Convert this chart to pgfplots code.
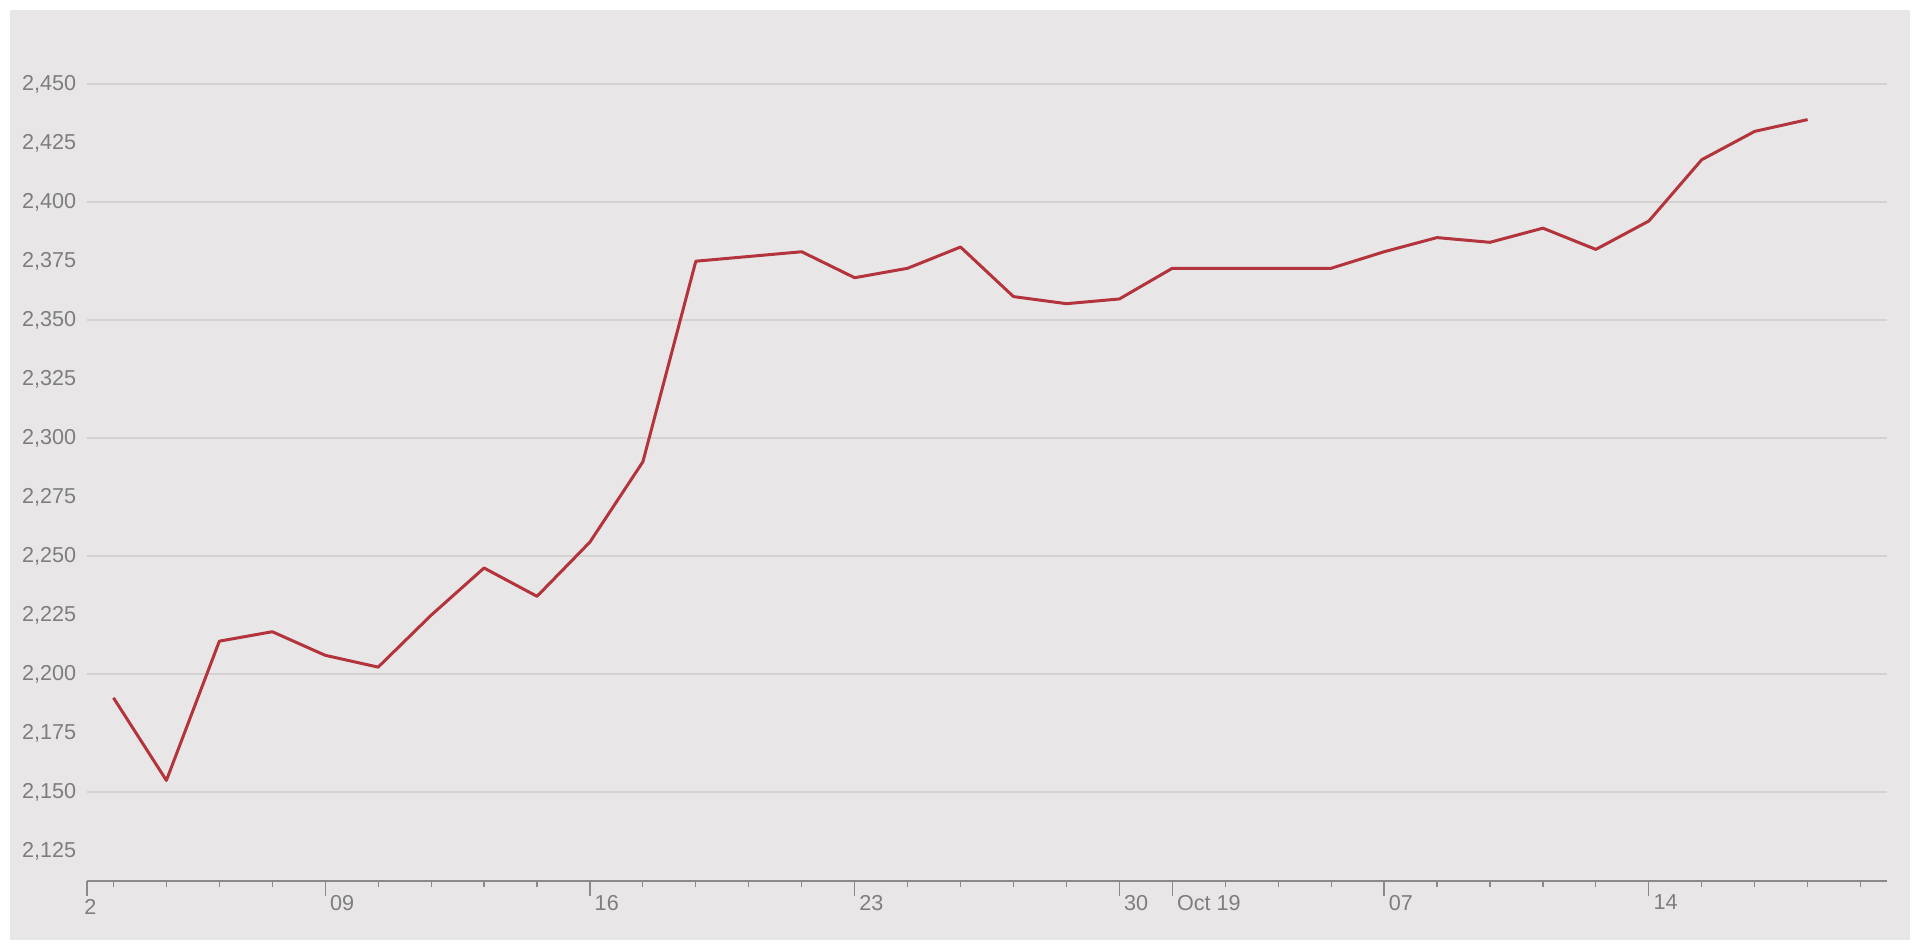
\documentclass[border=0pt]{standalone}
\usepackage{fontspec}
\setmainfont{Liberation Sans}
\usepackage{pgfplots}
\pgfplotsset{compat=1.18}
\definecolor{panel}{HTML}{E8E6E7}
\definecolor{gridc}{HTML}{D4D2D3}
\definecolor{linered}{HTML}{B3343D}
\definecolor{labgray}{HTML}{7E7E7E}
\definecolor{axgray}{HTML}{8A8A8A}

\begin{document}
\begin{tikzpicture}
\useasboundingbox (0,0) rectangle (960pt,475pt);
\fill[white] (0,0) rectangle (960pt,475pt);
\fill[panel] (5pt,5pt) rectangle (955pt,470pt);
\begin{axis}[
  at={(43.5pt,34.65pt)}, anchor=south west,
  scale only axis, width=900pt, height=433.65pt,
  xmin=0.5, xmax=34.5, ymin=2112.5, ymax=2480,
  axis lines*=left,
  x axis line style={-, draw=axgray, line width=0.9pt},
  y axis line style={draw=none},
  % trading days, index 0 = Mon 2 Sep 2019
  xtick={5,10,15,20,21,25,30},
  xticklabels={09,16,23,30,Oct 19,07,14},
  minor xtick={1,2,3,4,6,7,8,9,11,12,13,14,16,17,18,19,22,23,24,26,27,28,29,31,32,33,34},
  tick align=outside,
  x tick style={draw=axgray, line width=0.6pt},
  major x tick style={/pgfplots/major tick length=7.5pt},
  minor x tick style={/pgfplots/minor tick length=3pt},
  xticklabel style={font=\fontsize{10.8}{12}\selectfont, text=labgray,
    anchor=north west, inner sep=0pt, xshift=2.2pt, yshift=-2.7pt},
  extra x ticks={0.5},
  extra x tick labels={2},
  extra x tick style={major tick length=0pt, xticklabel style={anchor=north, xshift=-0.5pt, yshift=-6.5pt}},
  ytick={2125,2150,...,2450},
  minor ytick={2150,2200,...,2450},
  yminorgrids=true,
  minor grid style={draw=gridc, line width=0.9pt},
  y tick style={draw=none},
  major y tick style={/pgfplots/major tick length=0pt},
  minor y tick style={/pgfplots/minor tick length=0pt},
  yticklabel style={font=\fontsize{10.8}{12}\selectfont, text=labgray,
    anchor=east, inner sep=0pt, xshift=-1pt},
  /pgf/number format/assume math mode=true,
  /pgf/number format/1000 sep={,},
  clip=false,
]
\addplot[linered, line width=1.5pt, line join=round, mark=none] coordinates {
  (1,2190) (2,2155) (3,2214) (4,2218)
  (5,2208) (6,2203) (7,2225) (8,2245) (9,2233)
  (10,2256) (11,2290) (12,2375) (13,2377) (14,2379)
  (15,2368) (16,2372) (17,2381) (18,2360) (19,2357)
  (20,2359) (21,2372) (22,2372) (23,2372) (24,2372)
  (25,2379) (26,2385) (27,2383) (28,2389) (29,2380)
  (30,2392) (31,2418) (32,2430) (33,2435)
};
\end{axis}
\end{tikzpicture}
\end{document}
